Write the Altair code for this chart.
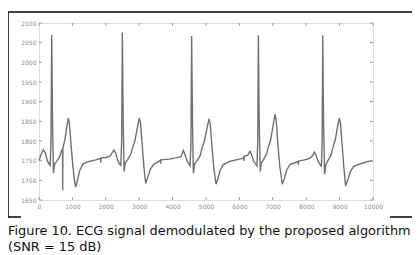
import altair as alt
import pandas as pd

# ECG waveform (sample index, amplitude)
x_vals = [
    0, 60, 130, 190, 250, 300, 335, 360, 380, 405, 432, 470, 530, 620, 680, 705, 710, 715, 780, 830, 877, 910, 960, 1010, 1060, 1098, 1150, 1220, 1320, 1500, 1700, 1845, 1850, 1855, 2000, 2130,
    2190, 2245, 2300, 2360, 2420, 2450, 2475, 2495, 2520, 2548, 2585, 2650, 2740, 2790, 2870, 2950, 3003, 3040, 3090, 3140, 3194, 3250, 3330, 3430, 3638, 3643, 3648, 3900, 4100, 4250,
    4290, 4320, 4360, 4430, 4500, 4525, 4550, 4570, 4595, 4622, 4660, 4720, 4820, 4870, 4950, 5030, 5090, 5125, 5175, 5230, 5300, 5350, 5420, 5520, 5700, 5900, 6100, 6135, 6140, 6145, 6250,
    6290, 6317, 6360, 6430, 6500, 6525, 6550, 6567, 6592, 6625, 6660, 6720, 6810, 6860, 6940, 7010, 7066, 7100, 7150, 7210, 7285, 7340, 7410, 7510, 7700, 7758, 7763, 7768, 7950, 8100, 8180,
    8220, 8243, 8285, 8360, 8430, 8455, 8478, 8495, 8520, 8550, 8590, 8650, 8740, 8790, 8870, 8935, 8990, 9025, 9075, 9125, 9180, 9240, 9320, 9420, 9550, 9700, 9850, 10000,
]
y_vals = [
    1750, 1765, 1778, 1770, 1750, 1742, 1738, 1800, 2070, 1850, 1718, 1742, 1748, 1760, 1777, 1780, 1675, 1782, 1805, 1835, 1858, 1845, 1790, 1740, 1700, 1683, 1700, 1725, 1742, 1748, 1752, 1756, 1745, 1757, 1758, 1762,
    1770, 1777, 1768, 1750, 1740, 1738, 1800, 2076, 1850, 1722, 1745, 1752, 1765, 1780, 1800, 1835, 1858, 1845, 1790, 1735, 1692, 1705, 1728, 1740, 1751, 1742, 1752, 1754, 1757, 1760,
    1768, 1776, 1768, 1750, 1740, 1737, 1800, 2067, 1850, 1718, 1742, 1748, 1762, 1778, 1800, 1832, 1856, 1845, 1790, 1735, 1690, 1702, 1725, 1740, 1748, 1752, 1756, 1760, 1749, 1761, 1764,
    1770, 1774, 1766, 1748, 1740, 1737, 1800, 2069, 1850, 1722, 1745, 1752, 1766, 1782, 1805, 1840, 1868, 1855, 1795, 1735, 1690, 1703, 1725, 1740, 1746, 1748, 1740, 1749, 1752, 1756, 1762,
    1768, 1772, 1765, 1748, 1738, 1736, 1800, 2069, 1850, 1716, 1740, 1750, 1764, 1780, 1803, 1835, 1858, 1845, 1790, 1735, 1686, 1700, 1722, 1735, 1740, 1744, 1748, 1750,
]

x_ticks = [0, 1000, 2000, 3000, 4000, 5000, 6000, 7000, 8000, 9000, 10000]
y_ticks = [1650, 1700, 1750, 1800, 1850, 1900, 1950, 2000, 2050, 2100]

caption_1 = "Figure 10. ECG signal demodulated by the proposed algorithm"
caption_2 = "(SNR = 15 dB)"

W, H = 334, 177

sig = pd.DataFrame({"x": x_vals, "y": y_vals})
xt = pd.DataFrame({"x": x_ticks})
yt = pd.DataFrame({"y": y_ticks})

xscale = alt.Scale(domain=[0, 10000], nice=False)
yscale = alt.Scale(domain=[1650, 2100], nice=False)

common_axis = dict(title=None, ticks=False, domain=False, grid=False, format="d",
                   labelOverlap=False, labelFlush=False,
                   labelFontSize=6, labelColor="#8a8a8a", labelFont="DejaVu Sans")
xaxis = alt.Axis(values=x_ticks, labelPadding=3, **common_axis)
yaxis = alt.Axis(values=y_ticks, labelPadding=3, **common_axis)

line = alt.Chart(sig).mark_line(color="#707070", strokeWidth=1.4).encode(
    x=alt.X("x:Q", scale=xscale, axis=xaxis),
    y=alt.Y("y:Q", scale=yscale, axis=yaxis),
)

tick_style = dict(color="#9a9a9a", strokeWidth=1)
bt = alt.Chart(xt).mark_rule(**tick_style).encode(x=alt.X("x:Q", scale=xscale, axis=xaxis), y=alt.value(H), y2=alt.value(H - 3))
tt = alt.Chart(xt).mark_rule(**tick_style).encode(x=alt.X("x:Q", scale=xscale, axis=xaxis), y=alt.value(0), y2=alt.value(3))
lt = alt.Chart(yt).mark_rule(**tick_style).encode(y=alt.Y("y:Q", scale=yscale, axis=yaxis), x=alt.value(0), x2=alt.value(3))
rt = alt.Chart(yt).mark_rule(**tick_style).encode(y=alt.Y("y:Q", scale=yscale, axis=yaxis), x=alt.value(W), x2=alt.value(W - 3))

frame_style = dict(color="black", strokeWidth=1.5)
one = pd.DataFrame({"a": [0]})
f_top = alt.Chart(one).mark_rule(**frame_style).encode(x=alt.value(-31), x2=alt.value(374), y=alt.value(-11))
f_left = alt.Chart(one).mark_rule(**frame_style).encode(x=alt.value(-31), y=alt.value(-11), y2=alt.value(194))
f_right = alt.Chart(one).mark_rule(**frame_style).encode(x=alt.value(374), y=alt.value(-11), y2=alt.value(194))
f_bl = alt.Chart(one).mark_rule(**frame_style).encode(x=alt.value(-31), x2=alt.value(-18), y=alt.value(194))
f_br = alt.Chart(one).mark_rule(**frame_style).encode(x=alt.value(351), x2=alt.value(374), y=alt.value(194))

cap_style = dict(align="left", baseline="alphabetic", fontSize=12.9, font="DejaVu Sans", color="#111")
cap1 = alt.Chart(pd.DataFrame({"t": [caption_1]})).mark_text(**cap_style).encode(
    text="t:N", x=alt.value(-31), y=alt.value(212))
cap2 = alt.Chart(pd.DataFrame({"t": [caption_2]})).mark_text(**cap_style).encode(
    text="t:N", x=alt.value(-31), y=alt.value(228))

chart = alt.layer(line, bt, tt, lt, rt, f_top, f_left, f_right, f_bl, f_br, cap1, cap2).properties(
    width=W, height=H,
    autosize=alt.AutoSizeParams(type="none"),
    padding={"left": 31, "top": 15, "right": 39, "bottom": 55},
).configure_view(stroke="#9a9a9a", strokeWidth=1).configure(background="white")

chart.save("out.html", embed_options={"renderer": "svg", "actions": False})
